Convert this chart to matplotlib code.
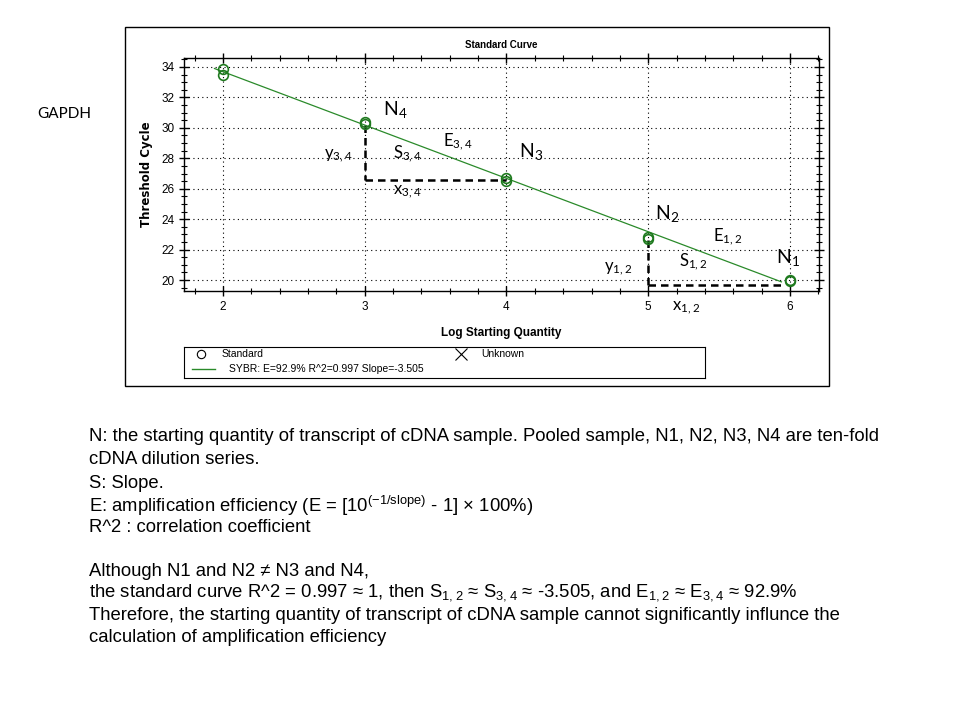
import matplotlib
matplotlib.use("Agg")
import matplotlib.pyplot as plt
from matplotlib.patches import Rectangle
from matplotlib.ticker import MultipleLocator

plt.rcParams['mathtext.default'] = 'regular'

# standard points (log quantity, Ct)
log_qty = [2, 2, 3, 3, 4, 4, 5, 5, 6, 6]
ct = [33.9, 33.5, 30.4, 30.25, 26.7, 26.5, 22.8, 22.7, 20.0, 19.95]

# fitted standard curve
slope = -3.505
intercept = 40.70
fit_x = [1.94, 5.94]

# dashed guides: (x, y_top, x_end, y_bottom)
guides = [(3, 30.2, 4, 26.6), (5, 22.6, 5.95, 19.7)]

xticks = [2, 3, 4, 5, 6]
yticks = [20, 22, 24, 26, 28, 30, 32, 34]

# annotation labels (text, x, y in data units, size)
labels = [
    ("N$_4$", 3.13, 31.2, 14),
    ("E$_{3,4}$", 3.55, 29.1, 12),
    ("S$_{3,4}$", 3.2, 28.3, 12),
    ("y$_{3,4}$", 2.71, 28.2, 12),
    ("x$_{3,4}$", 3.2, 25.8, 12),
    ("N$_3$", 4.09, 28.45, 14),
    ("N$_2$", 5.05, 24.4, 14),
    ("E$_{1,2}$", 5.46, 22.85, 12),
    ("S$_{1,2}$", 5.22, 21.2, 12),
    ("y$_{1,2}$", 4.69, 20.75, 12),
    ("N$_1$", 5.9, 21.5, 14),
    ("x$_{1,2}$", 5.17, 18.2, 12),
]

green = '#2a8a2a'
chart_font = ['Liberation Sans', 'DejaVu Sans']
anno_font = ['Lato', 'DejaVu Sans']

fig = plt.figure(figsize=(9.6, 7.2), dpi=100)
W, H = 960.0, 720.0

def fx(px):
    return px / W

def fy(py):
    return 1 - py / H

# outer frame of the exported chart
fig.patches.append(Rectangle((fx(125), fy(386)), fx(829) - fx(125), fy(27) - fy(386),
                             transform=fig.transFigure, fill=False, lw=1, ec='black'))

ax = fig.add_axes([fx(184), fy(291), fx(819) - fx(184), fy(58) - fy(291)])
ax.set_xlim(1.725, 6.205)
ax.set_ylim(19.28, 34.59)
ax.set_xticks(xticks)
ax.set_yticks(yticks)
ax.xaxis.set_minor_locator(MultipleLocator(0.2))
ax.yaxis.set_minor_locator(MultipleLocator(0.5))
ax.tick_params(which='both', direction='inout', top=True, right=True, colors='black')
ax.tick_params(which='major', length=7, width=1)
ax.tick_params(which='minor', length=4, width=0.8)
ax.grid(True, which='major', ls=(0, (1, 3)), color='black', lw=0.8)
for lab in ax.get_xticklabels() + ax.get_yticklabels():
    lab.set_family(chart_font)
    lab.set_fontsize(8.5)
for s in ax.spines.values():
    s.set_linewidth(1)

fit_y = [slope * v + intercept for v in fit_x]
ax.plot(fit_x, fit_y, color=green, lw=0.9, zorder=3)
ax.plot(log_qty, ct, 'o', ms=7, mfc='none', mec='#1f7a1f', mew=1.2, zorder=4)

for x0, y0, x1, y1 in guides:
    ax.plot([x0, x0], [y0, y1], color='black', lw=1.8, ls=(0, (3, 2)), zorder=2)
    ax.plot([x0, x1], [y1, y1], color='black', lw=1.8, ls=(0, (3, 2)), zorder=2)

for txt, x, y, fs in labels:
    ax.text(x, y, txt, fontsize=fs, family=anno_font, ha='left', va='center', clip_on=False)

ax.set_title('Standard Curve', fontsize=7, fontweight='bold', family=chart_font, pad=7)
ax.set_xlabel('Log Starting Quantity', fontsize=8.5, fontweight='bold', family=chart_font, labelpad=10)
ax.set_ylabel('Threshold Cycle', fontsize=8.5, fontweight='bold', family=['DejaVu Sans'], labelpad=6)

# legend box
lg = fig.add_axes([fx(184), fy(378), fx(705) - fx(184), fy(347) - fy(378)])
lg.set_xlim(0, 521)
lg.set_ylim(31, 0)
lg.set_xticks([])
lg.set_yticks([])
lg.plot([17], [7], 'o', ms=6, mfc='none', mec='black', mew=0.8)
lg.text(38, 7, 'Standard', fontsize=7.5, family=chart_font, va='center')
lg.plot([277], [7], 'x', ms=9, color='black', mew=0.8)
lg.text(297, 7, 'Unknown', fontsize=7.5, family=chart_font, va='center')
lg.plot([8, 31], [22, 22], color=green, lw=1)
lg.text(45, 22, 'SYBR: E=92.9% R^2=0.997 Slope=-3.505', fontsize=7.5, family=chart_font, va='center')

fig.text(fx(37), fy(114), 'GAPDH', fontsize=11, family=anno_font, ha='left', va='center')

notes = [
    (437, "N: the starting quantity of transcript of cDNA sample. Pooled sample, N1, N2, N3, N4 are ten-fold"),
    (460, "cDNA dilution series."),
    (483, "S: Slope."),
    (506, "E: amplification efficiency (E = [10$^{(-1/slope)}$ - 1] \u00d7 100%)"),
    (527, "R^2 : correlation coefficient"),
    (572, "Although N1 and N2 \u2260 N3 and N4,"),
    (593, "the standard curve R^2 = 0.997 \u2248 1, then $S_{1,2}$ \u2248 $S_{3,4}$ \u2248 -3.505, and $E_{1,2}$ \u2248 $E_{3,4}$ \u2248 92.9%"),
    (615, "Therefore, the starting quantity of transcript of cDNA sample cannot significantly influnce the"),
    (638, "calculation of amplification efficiency"),
]
for py, line in notes:
    fig.text(fx(89), fy(py), line, fontsize=13.3, family=chart_font, ha='left', va='center')

fig.savefig('out.png', dpi=100)
